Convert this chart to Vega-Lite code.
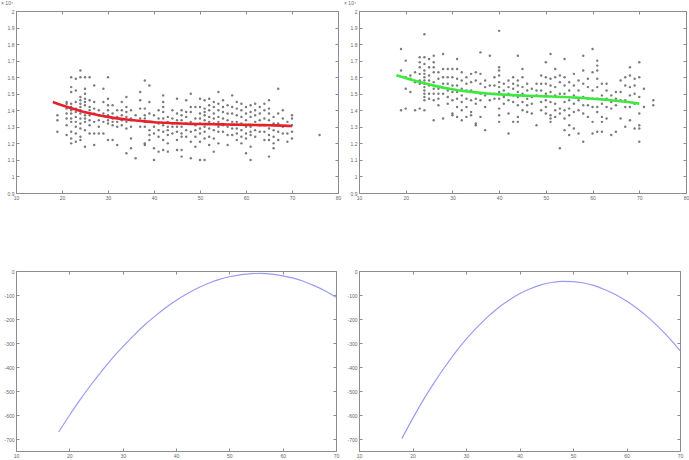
{
"$schema":"https://vega.github.io/schema/vega-lite/v6.json",
"padding":{"left":0,"top":0,"right":5,"bottom":5},
"background":"white",
"config":{
 "view":{"stroke":"#8c8c8c","strokeWidth":1},
 "axis":{"domainColor":"#8c8c8c","tickColor":"#8c8c8c","labelColor":"#666","labelFontSize":5,"labelFont":"Liberation Sans","tickSize":-3,"grid":false,"title":null,"labelPadding":5,"labelFlush":false,"labelOverlap":false,"labelExpr":"'' + datum.value"},
 "point":{"filled":true,"size":6,"color":"#5a5a5a","opacity":0.8},
 "line":{"interpolate":"monotone"}
},
"datasets":{
 "tl":[
{"x":19,"y":1.37},{"x":19,"y":1.34},{"x":19,"y":1.27},
{"x":21,"y":1.45},{"x":21,"y":1.44},{"x":21,"y":1.41},{"x":21,"y":1.38},{"x":21,"y":1.35},{"x":21,"y":1.31},{"x":21,"y":1.25},
{"x":22,"y":1.60},{"x":22,"y":1.54},{"x":22,"y":1.51},{"x":22,"y":1.44},{"x":22,"y":1.42},{"x":22,"y":1.40},{"x":22,"y":1.38},{"x":22,"y":1.35},{"x":22,"y":1.33},{"x":22,"y":1.27},{"x":22,"y":1.23},{"x":22,"y":1.20},
{"x":23,"y":1.59},{"x":23,"y":1.52},{"x":23,"y":1.45},{"x":23,"y":1.41},{"x":23,"y":1.39},{"x":23,"y":1.36},{"x":23,"y":1.33},{"x":23,"y":1.30},{"x":23,"y":1.26},{"x":23,"y":1.21},
{"x":24,"y":1.64},{"x":24,"y":1.60},{"x":24,"y":1.48},{"x":24,"y":1.46},{"x":24,"y":1.44},{"x":24,"y":1.42},{"x":24,"y":1.40},{"x":24,"y":1.38},{"x":24,"y":1.35},{"x":24,"y":1.32},{"x":24,"y":1.29},{"x":24,"y":1.24},{"x":24,"y":1.22},
{"x":25,"y":1.60},{"x":25,"y":1.53},{"x":25,"y":1.50},{"x":25,"y":1.47},{"x":25,"y":1.45},{"x":25,"y":1.43},{"x":25,"y":1.39},{"x":25,"y":1.37},{"x":25,"y":1.35},{"x":25,"y":1.33},{"x":25,"y":1.28},{"x":25,"y":1.18},
{"x":26,"y":1.60},{"x":26,"y":1.46},{"x":26,"y":1.42},{"x":26,"y":1.40},{"x":26,"y":1.37},{"x":26,"y":1.34},{"x":26,"y":1.31},{"x":26,"y":1.26},
{"x":27,"y":1.55},{"x":27,"y":1.45},{"x":27,"y":1.41},{"x":27,"y":1.38},{"x":27,"y":1.33},{"x":27,"y":1.26},{"x":27,"y":1.19},
{"x":28,"y":1.40},{"x":28,"y":1.37},{"x":28,"y":1.34},{"x":28,"y":1.30},{"x":28,"y":1.26},
{"x":29,"y":1.53},{"x":29,"y":1.45},{"x":29,"y":1.38},{"x":29,"y":1.33},{"x":29,"y":1.26},
{"x":30,"y":1.60},{"x":30,"y":1.47},{"x":30,"y":1.43},{"x":30,"y":1.40},{"x":30,"y":1.37},{"x":30,"y":1.34},{"x":30,"y":1.32},{"x":30,"y":1.22},
{"x":31,"y":1.43},{"x":31,"y":1.38},{"x":31,"y":1.35},{"x":31,"y":1.33},{"x":31,"y":1.31},{"x":31,"y":1.22},
{"x":32,"y":1.40},{"x":32,"y":1.36},{"x":32,"y":1.33},{"x":32,"y":1.30},{"x":32,"y":1.19},
{"x":33,"y":1.45},{"x":33,"y":1.40},{"x":33,"y":1.37},{"x":33,"y":1.34},{"x":33,"y":1.31},
{"x":34,"y":1.48},{"x":34,"y":1.42},{"x":34,"y":1.39},{"x":34,"y":1.36},{"x":34,"y":1.33},{"x":34,"y":1.29},{"x":34,"y":1.14},
{"x":35,"y":1.40},{"x":35,"y":1.35},{"x":35,"y":1.34},{"x":35,"y":1.30},{"x":35,"y":1.23},{"x":35,"y":1.17},
{"x":36,"y":1.37},{"x":36,"y":1.11},
{"x":37,"y":1.51},{"x":37,"y":1.46},{"x":37,"y":1.41},{"x":37,"y":1.35},{"x":37,"y":1.30},
{"x":38,"y":1.58},{"x":38,"y":1.41},{"x":38,"y":1.37},{"x":38,"y":1.35},{"x":38,"y":1.33},{"x":38,"y":1.30},{"x":38,"y":1.20},{"x":38,"y":1.19},
{"x":39,"y":1.55},{"x":39,"y":1.45},{"x":39,"y":1.38},{"x":39,"y":1.33},{"x":39,"y":1.28},{"x":39,"y":1.25},{"x":39,"y":1.22},
{"x":40,"y":1.37},{"x":40,"y":1.30},{"x":40,"y":1.26},{"x":40,"y":1.17},{"x":40,"y":1.10},
{"x":41,"y":1.40},{"x":41,"y":1.35},{"x":41,"y":1.32},{"x":41,"y":1.28},{"x":41,"y":1.24},{"x":41,"y":1.15},
{"x":42,"y":1.49},{"x":42,"y":1.45},{"x":42,"y":1.42},{"x":42,"y":1.39},{"x":42,"y":1.35},{"x":42,"y":1.31},{"x":42,"y":1.27},{"x":42,"y":1.22},{"x":42,"y":1.16},
{"x":43,"y":1.36},{"x":43,"y":1.33},{"x":43,"y":1.30},{"x":43,"y":1.28},{"x":43,"y":1.25},{"x":43,"y":1.20},{"x":43,"y":1.15},
{"x":44,"y":1.40},{"x":44,"y":1.35},{"x":44,"y":1.32},{"x":44,"y":1.30},{"x":44,"y":1.26},
{"x":45,"y":1.47},{"x":45,"y":1.38},{"x":45,"y":1.34},{"x":45,"y":1.30},{"x":45,"y":1.27},{"x":45,"y":1.22},{"x":45,"y":1.16},
{"x":46,"y":1.40},{"x":46,"y":1.37},{"x":46,"y":1.34},{"x":46,"y":1.30},{"x":46,"y":1.26},{"x":46,"y":1.24},{"x":46,"y":1.16},{"x":46,"y":1.12},
{"x":47,"y":1.46},{"x":47,"y":1.39},{"x":47,"y":1.36},{"x":47,"y":1.32},{"x":47,"y":1.28},{"x":47,"y":1.24},
{"x":48,"y":1.50},{"x":48,"y":1.42},{"x":48,"y":1.39},{"x":48,"y":1.33},{"x":48,"y":1.27},{"x":48,"y":1.21},{"x":48,"y":1.11},
{"x":49,"y":1.42},{"x":49,"y":1.35},{"x":49,"y":1.31},{"x":49,"y":1.28},{"x":49,"y":1.24},{"x":49,"y":1.18},
{"x":50,"y":1.47},{"x":50,"y":1.42},{"x":50,"y":1.38},{"x":50,"y":1.35},{"x":50,"y":1.32},{"x":50,"y":1.29},{"x":50,"y":1.26},{"x":50,"y":1.21},{"x":50,"y":1.10},
{"x":51,"y":1.46},{"x":51,"y":1.41},{"x":51,"y":1.39},{"x":51,"y":1.37},{"x":51,"y":1.34},{"x":51,"y":1.30},{"x":51,"y":1.27},{"x":51,"y":1.23},{"x":51,"y":1.10},
{"x":52,"y":1.47},{"x":52,"y":1.43},{"x":52,"y":1.40},{"x":52,"y":1.36},{"x":52,"y":1.33},{"x":52,"y":1.29},{"x":52,"y":1.24},{"x":52,"y":1.19},
{"x":53,"y":1.45},{"x":53,"y":1.42},{"x":53,"y":1.38},{"x":53,"y":1.35},{"x":53,"y":1.32},{"x":53,"y":1.28},{"x":53,"y":1.23},{"x":53,"y":1.15},
{"x":54,"y":1.51},{"x":54,"y":1.44},{"x":54,"y":1.40},{"x":54,"y":1.36},{"x":54,"y":1.33},{"x":54,"y":1.30},{"x":54,"y":1.27},{"x":54,"y":1.20},
{"x":55,"y":1.46},{"x":55,"y":1.42},{"x":55,"y":1.39},{"x":55,"y":1.35},{"x":55,"y":1.31},{"x":55,"y":1.27},
{"x":56,"y":1.43},{"x":56,"y":1.38},{"x":56,"y":1.34},{"x":56,"y":1.30},{"x":56,"y":1.25},{"x":56,"y":1.19},
{"x":57,"y":1.49},{"x":57,"y":1.42},{"x":57,"y":1.38},{"x":57,"y":1.33},{"x":57,"y":1.29},{"x":57,"y":1.25},
{"x":58,"y":1.45},{"x":58,"y":1.41},{"x":58,"y":1.37},{"x":58,"y":1.33},{"x":58,"y":1.29},{"x":58,"y":1.26},{"x":58,"y":1.22},
{"x":59,"y":1.44},{"x":59,"y":1.40},{"x":59,"y":1.36},{"x":59,"y":1.32},{"x":59,"y":1.28},{"x":59,"y":1.24},{"x":59,"y":1.20},
{"x":60,"y":1.42},{"x":60,"y":1.38},{"x":60,"y":1.34},{"x":60,"y":1.30},{"x":60,"y":1.26},{"x":60,"y":1.23},{"x":60,"y":1.14},
{"x":61,"y":1.43},{"x":61,"y":1.39},{"x":61,"y":1.36},{"x":61,"y":1.30},{"x":61,"y":1.27},{"x":61,"y":1.25},{"x":61,"y":1.18},{"x":61,"y":1.10},
{"x":62,"y":1.44},{"x":62,"y":1.40},{"x":62,"y":1.37},{"x":62,"y":1.33},{"x":62,"y":1.28},{"x":62,"y":1.24},
{"x":63,"y":1.42},{"x":63,"y":1.38},{"x":63,"y":1.34},{"x":63,"y":1.31},{"x":63,"y":1.27},
{"x":64,"y":1.44},{"x":64,"y":1.40},{"x":64,"y":1.35},{"x":64,"y":1.31},{"x":64,"y":1.27},{"x":64,"y":1.22},
{"x":65,"y":1.46},{"x":65,"y":1.41},{"x":65,"y":1.38},{"x":65,"y":1.34},{"x":65,"y":1.29},{"x":65,"y":1.25},{"x":65,"y":1.22},{"x":65,"y":1.12},
{"x":66,"y":1.36},{"x":66,"y":1.32},{"x":66,"y":1.28},{"x":66,"y":1.24},{"x":66,"y":1.20},{"x":66,"y":1.17},
{"x":67,"y":1.53},{"x":67,"y":1.38},{"x":67,"y":1.32},{"x":67,"y":1.27},{"x":67,"y":1.22},
{"x":68,"y":1.40},{"x":68,"y":1.35},{"x":68,"y":1.30},{"x":68,"y":1.26},
{"x":69,"y":1.33},{"x":69,"y":1.26},{"x":69,"y":1.21},
{"x":70,"y":1.37},{"x":70,"y":1.35},{"x":70,"y":1.31},{"x":70,"y":1.27},{"x":70,"y":1.23},
{"x":76,"y":1.25}
 ],
 "tlfit":[
{"x":18,"y":1.450},{"x":20,"y":1.430},{"x":22,"y":1.412},{"x":24,"y":1.396},{"x":26,"y":1.382},{"x":28,"y":1.370},{"x":30,"y":1.360},{"x":32,"y":1.351},{"x":34,"y":1.344},{"x":36,"y":1.338},{"x":38,"y":1.333},{"x":40,"y":1.328},{"x":42,"y":1.325},{"x":44,"y":1.322},{"x":46,"y":1.320},{"x":48,"y":1.318},{"x":50,"y":1.317},{"x":52,"y":1.316},{"x":54,"y":1.315},{"x":56,"y":1.314},{"x":58,"y":1.313},{"x":60,"y":1.312},{"x":62,"y":1.311},{"x":64,"y":1.310},{"x":66,"y":1.309},{"x":68,"y":1.307},{"x":70,"y":1.305}
 ],
 "tr":[
{"x":19,"y":1.77},{"x":19,"y":1.64},{"x":19,"y":1.40},
{"x":20,"y":1.70},{"x":20,"y":1.60},{"x":20,"y":1.53},{"x":20,"y":1.41},
{"x":21,"y":1.61},{"x":21,"y":1.59},{"x":21,"y":1.51},
{"x":22,"y":1.63},{"x":22,"y":1.57},{"x":22,"y":1.40},
{"x":23,"y":1.72},{"x":23,"y":1.69},{"x":23,"y":1.66},{"x":23,"y":1.62},{"x":23,"y":1.58},{"x":23,"y":1.56},{"x":23,"y":1.41},
{"x":24,"y":1.86},{"x":24,"y":1.72},{"x":24,"y":1.68},{"x":24,"y":1.64},{"x":24,"y":1.62},{"x":24,"y":1.60},{"x":24,"y":1.58},{"x":24,"y":1.56},{"x":24,"y":1.54},{"x":24,"y":1.52},{"x":24,"y":1.50},{"x":24,"y":1.48},{"x":24,"y":1.46},{"x":24,"y":1.40},
{"x":25,"y":1.71},{"x":25,"y":1.66},{"x":25,"y":1.61},{"x":25,"y":1.58},{"x":25,"y":1.55},{"x":25,"y":1.50},{"x":25,"y":1.47},
{"x":26,"y":1.73},{"x":26,"y":1.69},{"x":26,"y":1.66},{"x":26,"y":1.63},{"x":26,"y":1.57},{"x":26,"y":1.53},{"x":26,"y":1.50},{"x":26,"y":1.46},{"x":26,"y":1.34},
{"x":27,"y":1.63},{"x":27,"y":1.59},{"x":27,"y":1.53},{"x":27,"y":1.50},{"x":27,"y":1.47},{"x":27,"y":1.43},
{"x":28,"y":1.74},{"x":28,"y":1.65},{"x":28,"y":1.60},{"x":28,"y":1.56},{"x":28,"y":1.50},{"x":28,"y":1.35},
{"x":29,"y":1.65},{"x":29,"y":1.60},{"x":29,"y":1.56},{"x":29,"y":1.52},{"x":29,"y":1.48},{"x":29,"y":1.44},
{"x":30,"y":1.65},{"x":30,"y":1.60},{"x":30,"y":1.55},{"x":30,"y":1.51},{"x":30,"y":1.46},{"x":30,"y":1.38},{"x":30,"y":1.37},
{"x":31,"y":1.71},{"x":31,"y":1.65},{"x":31,"y":1.59},{"x":31,"y":1.55},{"x":31,"y":1.51},{"x":31,"y":1.47},{"x":31,"y":1.42},{"x":31,"y":1.36},
{"x":32,"y":1.63},{"x":32,"y":1.58},{"x":32,"y":1.53},{"x":32,"y":1.49},{"x":32,"y":1.45},{"x":32,"y":1.40},{"x":32,"y":1.34},
{"x":33,"y":1.60},{"x":33,"y":1.56},{"x":33,"y":1.52},{"x":33,"y":1.47},{"x":33,"y":1.42},{"x":33,"y":1.36},
{"x":34,"y":1.62},{"x":34,"y":1.57},{"x":34,"y":1.52},{"x":34,"y":1.46},{"x":34,"y":1.39},{"x":34,"y":1.37},
{"x":35,"y":1.63},{"x":35,"y":1.58},{"x":35,"y":1.51},{"x":35,"y":1.47},{"x":35,"y":1.44},{"x":35,"y":1.32},{"x":35,"y":1.31},
{"x":36,"y":1.75},{"x":36,"y":1.62},{"x":36,"y":1.56},{"x":36,"y":1.50},{"x":36,"y":1.46},{"x":36,"y":1.36},
{"x":37,"y":1.58},{"x":37,"y":1.54},{"x":37,"y":1.49},{"x":37,"y":1.42},{"x":37,"y":1.28},
{"x":38,"y":1.73},{"x":38,"y":1.55},{"x":38,"y":1.50},{"x":38,"y":1.46},
{"x":39,"y":1.60},{"x":39,"y":1.55},{"x":39,"y":1.50},{"x":39,"y":1.47},
{"x":40,"y":1.88},{"x":40,"y":1.66},{"x":40,"y":1.64},{"x":40,"y":1.61},{"x":40,"y":1.57},{"x":40,"y":1.54},{"x":40,"y":1.51},{"x":40,"y":1.47},{"x":40,"y":1.41},{"x":40,"y":1.37},{"x":40,"y":1.33},
{"x":41,"y":1.56},{"x":41,"y":1.52},{"x":41,"y":1.48},{"x":41,"y":1.44},
{"x":42,"y":1.58},{"x":42,"y":1.54},{"x":42,"y":1.50},{"x":42,"y":1.46},{"x":42,"y":1.38},{"x":42,"y":1.26},
{"x":43,"y":1.60},{"x":43,"y":1.56},{"x":43,"y":1.53},{"x":43,"y":1.49},{"x":43,"y":1.45},{"x":43,"y":1.33},
{"x":44,"y":1.73},{"x":44,"y":1.58},{"x":44,"y":1.55},{"x":44,"y":1.51},{"x":44,"y":1.48},{"x":44,"y":1.43},{"x":44,"y":1.36},{"x":44,"y":1.33},
{"x":45,"y":1.65},{"x":45,"y":1.60},{"x":45,"y":1.54},{"x":45,"y":1.50},{"x":45,"y":1.45},{"x":45,"y":1.40},
{"x":46,"y":1.56},{"x":46,"y":1.52},{"x":46,"y":1.47},{"x":46,"y":1.43},{"x":46,"y":1.39},
{"x":47,"y":1.53},{"x":47,"y":1.48},{"x":47,"y":1.44},{"x":47,"y":1.38},
{"x":48,"y":1.56},{"x":48,"y":1.52},{"x":48,"y":1.49},{"x":48,"y":1.31},
{"x":49,"y":1.61},{"x":49,"y":1.56},{"x":49,"y":1.52},{"x":49,"y":1.45},{"x":49,"y":1.40},
{"x":50,"y":1.69},{"x":50,"y":1.60},{"x":50,"y":1.56},{"x":50,"y":1.50},{"x":50,"y":1.46},{"x":50,"y":1.42},{"x":50,"y":1.38},
{"x":51,"y":1.74},{"x":51,"y":1.59},{"x":51,"y":1.55},{"x":51,"y":1.51},{"x":51,"y":1.45},{"x":51,"y":1.37},{"x":51,"y":1.35},{"x":51,"y":1.33},
{"x":52,"y":1.65},{"x":52,"y":1.60},{"x":52,"y":1.54},{"x":52,"y":1.49},{"x":52,"y":1.44},{"x":52,"y":1.40},{"x":52,"y":1.36},
{"x":53,"y":1.61},{"x":53,"y":1.57},{"x":53,"y":1.50},{"x":53,"y":1.41},{"x":53,"y":1.38},{"x":53,"y":1.17},
{"x":54,"y":1.71},{"x":54,"y":1.60},{"x":54,"y":1.55},{"x":54,"y":1.50},{"x":54,"y":1.45},{"x":54,"y":1.40},{"x":54,"y":1.35},{"x":54,"y":1.28},
{"x":55,"y":1.57},{"x":55,"y":1.52},{"x":55,"y":1.46},{"x":55,"y":1.41},{"x":55,"y":1.37},{"x":55,"y":1.31},{"x":55,"y":1.25},
{"x":56,"y":1.62},{"x":56,"y":1.55},{"x":56,"y":1.49},{"x":56,"y":1.44},{"x":56,"y":1.39},{"x":56,"y":1.29},
{"x":57,"y":1.58},{"x":57,"y":1.52},{"x":57,"y":1.46},{"x":57,"y":1.40},{"x":57,"y":1.26},
{"x":58,"y":1.73},{"x":58,"y":1.64},{"x":58,"y":1.56},{"x":58,"y":1.48},{"x":58,"y":1.43},{"x":58,"y":1.38},{"x":58,"y":1.21},
{"x":59,"y":1.59},{"x":59,"y":1.54},{"x":59,"y":1.47},{"x":59,"y":1.43},{"x":59,"y":1.36},
{"x":60,"y":1.77},{"x":60,"y":1.63},{"x":60,"y":1.52},{"x":60,"y":1.47},{"x":60,"y":1.42},{"x":60,"y":1.33},{"x":60,"y":1.26},
{"x":61,"y":1.70},{"x":61,"y":1.67},{"x":61,"y":1.64},{"x":61,"y":1.59},{"x":61,"y":1.54},{"x":61,"y":1.47},{"x":61,"y":1.42},{"x":61,"y":1.39},{"x":61,"y":1.27},
{"x":62,"y":1.56},{"x":62,"y":1.49},{"x":62,"y":1.44},{"x":62,"y":1.36},{"x":62,"y":1.33},{"x":62,"y":1.27},
{"x":63,"y":1.56},{"x":63,"y":1.52},{"x":63,"y":1.47},{"x":63,"y":1.42},{"x":63,"y":1.35},
{"x":64,"y":1.49},{"x":64,"y":1.45},{"x":64,"y":1.41},{"x":64,"y":1.25},
{"x":65,"y":1.51},{"x":65,"y":1.47},{"x":65,"y":1.43},{"x":65,"y":1.27},
{"x":66,"y":1.58},{"x":66,"y":1.51},{"x":66,"y":1.46},{"x":66,"y":1.35},
{"x":67,"y":1.60},{"x":67,"y":1.55},{"x":67,"y":1.46},{"x":67,"y":1.42},{"x":67,"y":1.30},
{"x":68,"y":1.66},{"x":68,"y":1.61},{"x":68,"y":1.54},{"x":68,"y":1.49},{"x":68,"y":1.42},{"x":68,"y":1.34},
{"x":69,"y":1.59},{"x":69,"y":1.55},{"x":69,"y":1.50},{"x":69,"y":1.44},{"x":69,"y":1.29},
{"x":70,"y":1.69},{"x":70,"y":1.60},{"x":70,"y":1.48},{"x":70,"y":1.38},{"x":70,"y":1.31},{"x":70,"y":1.29},{"x":70,"y":1.21},
{"x":71,"y":1.53},{"x":71,"y":1.42},
{"x":73,"y":1.46},{"x":73,"y":1.43}
 ],
 "trfit":[
{"x":18,"y":1.612},{"x":20,"y":1.595},{"x":22,"y":1.578},{"x":24,"y":1.563},{"x":26,"y":1.549},{"x":28,"y":1.537},{"x":30,"y":1.527},{"x":32,"y":1.518},{"x":34,"y":1.511},{"x":36,"y":1.505},{"x":38,"y":1.500},{"x":40,"y":1.496},{"x":42,"y":1.493},{"x":44,"y":1.490},{"x":46,"y":1.488},{"x":48,"y":1.486},{"x":50,"y":1.484},{"x":52,"y":1.482},{"x":54,"y":1.480},{"x":56,"y":1.477},{"x":58,"y":1.474},{"x":60,"y":1.470},{"x":62,"y":1.466},{"x":64,"y":1.461},{"x":66,"y":1.455},{"x":68,"y":1.448},{"x":70,"y":1.440}
 ],
 "bl":[
{"x":18,"y":-671},{"x":20,"y":-602},{"x":22,"y":-537},{"x":24,"y":-476},{"x":26,"y":-419},{"x":28,"y":-365},{"x":30,"y":-316},{"x":32,"y":-270},{"x":34,"y":-227},{"x":36,"y":-189},{"x":38,"y":-154},{"x":40,"y":-123},{"x":42,"y":-96},{"x":44,"y":-72},{"x":46,"y":-52},{"x":48,"y":-36},{"x":50,"y":-24},{"x":52,"y":-16},{"x":54,"y":-11},{"x":56,"y":-10},{"x":58,"y":-13},{"x":60,"y":-20},{"x":62,"y":-30},{"x":64,"y":-44},{"x":66,"y":-62},{"x":68,"y":-83},{"x":70,"y":-109}
 ],
 "br":[
{"x":18,"y":-698},{"x":20,"y":-616},{"x":22,"y":-538},{"x":24,"y":-467},{"x":26,"y":-401},{"x":28,"y":-340},{"x":30,"y":-285},{"x":32,"y":-236},{"x":34,"y":-192},{"x":36,"y":-154},{"x":38,"y":-122},{"x":40,"y":-95},{"x":42,"y":-74},{"x":44,"y":-58},{"x":46,"y":-48},{"x":48,"y":-43},{"x":50,"y":-44},{"x":52,"y":-50},{"x":54,"y":-61},{"x":56,"y":-78},{"x":58,"y":-99},{"x":60,"y":-125},{"x":62,"y":-156},{"x":64,"y":-192},{"x":66,"y":-234},{"x":68,"y":-280},{"x":70,"y":-332}
 ]
},
"vconcat":[
 {"hconcat":[
  {"width":322,"height":182,
   "title":{"text":"× 10⁴","anchor":"start","fontSize":5,"fontWeight":"normal","color":"#666","dx":-6,"offset":3,"font":"Liberation Sans"},
   "layer":[
    {"data":{"name":"tl"},"mark":"point",
     "encoding":{"x":{"field":"x","type":"quantitative","scale":{"domain":[10,80],"nice":false},"axis":{"values":[10,20,30,40,50,60,70,80]}},
                 "y":{"field":"y","type":"quantitative","scale":{"domain":[0.9,2],"nice":false,"zero":false},"axis":{"values":[0.9,1,1.1,1.2,1.3,1.4,1.5,1.6,1.7,1.8,1.9,2]}}}},
    {"data":{"name":"tlfit"},"mark":{"type":"line","color":"#e8202a","strokeWidth":2.6},
     "encoding":{"x":{"field":"x","type":"quantitative","axis":{"orient":"top","labels":false,"domain":false,"values":[10,20,30,40,50,60,70,80]}},"y":{"field":"y","type":"quantitative","axis":{"orient":"right","labels":false,"domain":false,"values":[0.9,1,1.1,1.2,1.3,1.4,1.5,1.6,1.7,1.8,1.9,2]}}}}
   ],
   "resolve":{"axis":{"x":"independent","y":"independent"}}},
  {"width":327,"height":182,
   "title":{"text":"× 10⁴","anchor":"start","fontSize":5,"fontWeight":"normal","color":"#666","dx":-6,"offset":3,"font":"Liberation Sans"},
   "layer":[
    {"data":{"name":"tr"},"mark":"point",
     "encoding":{"x":{"field":"x","type":"quantitative","scale":{"domain":[10,80],"nice":false},"axis":{"values":[10,20,30,40,50,60,70,80]}},
                 "y":{"field":"y","type":"quantitative","scale":{"domain":[0.9,2],"nice":false,"zero":false},"axis":{"values":[0.9,1,1.1,1.2,1.3,1.4,1.5,1.6,1.7,1.8,1.9,2]}}}},
    {"data":{"name":"trfit"},"mark":{"type":"line","color":"#3ee83e","strokeWidth":2.6},
     "encoding":{"x":{"field":"x","type":"quantitative","axis":{"orient":"top","labels":false,"domain":false,"values":[10,20,30,40,50,60,70,80]}},"y":{"field":"y","type":"quantitative","axis":{"orient":"right","labels":false,"domain":false,"values":[0.9,1,1.1,1.2,1.3,1.4,1.5,1.6,1.7,1.8,1.9,2]}}}}
   ],
   "resolve":{"axis":{"x":"independent","y":"independent"}}}
 ],"spacing":21,"bounds":"flush"},
 {"hconcat":[
  {"width":320,"height":180,"data":{"name":"bl"},
   "layer":[
    {"mark":{"type":"line","color":"#9a9cf2","strokeWidth":1.2},
     "encoding":{"x":{"field":"x","type":"quantitative","scale":{"domain":[10,70],"nice":false},"axis":{"values":[10,20,30,40,50,60,70]}},
                 "y":{"field":"y","type":"quantitative","scale":{"domain":[-750,0],"nice":false},"axis":{"values":[-700,-600,-500,-400,-300,-200,-100,0]}}}},
    {"mark":{"type":"line","opacity":0},
     "encoding":{"x":{"field":"x","type":"quantitative","axis":{"orient":"top","labels":false,"domain":false,"values":[10,20,30,40,50,60,70]}},
                 "y":{"field":"y","type":"quantitative","axis":{"orient":"right","labels":false,"domain":false,"values":[-700,-600,-500,-400,-300,-200,-100,0]}}}}
   ],
   "resolve":{"axis":{"x":"independent","y":"independent"}}},
  {"width":321,"height":180,"data":{"name":"br"},
   "layer":[
    {"mark":{"type":"line","color":"#9a9cf2","strokeWidth":1.2},
     "encoding":{"x":{"field":"x","type":"quantitative","scale":{"domain":[10,70],"nice":false},"axis":{"values":[10,20,30,40,50,60,70]}},
                 "y":{"field":"y","type":"quantitative","scale":{"domain":[-750,0],"nice":false},"axis":{"values":[-700,-600,-500,-400,-300,-200,-100,0]}}}},
    {"mark":{"type":"line","opacity":0},
     "encoding":{"x":{"field":"x","type":"quantitative","axis":{"orient":"top","labels":false,"domain":false,"values":[10,20,30,40,50,60,70]}},
                 "y":{"field":"y","type":"quantitative","axis":{"orient":"right","labels":false,"domain":false,"values":[-700,-600,-500,-400,-300,-200,-100,0]}}}}
   ],
   "resolve":{"axis":{"x":"independent","y":"independent"}}}
 ],"spacing":23,"bounds":"flush"}
],
"spacing":67
}
